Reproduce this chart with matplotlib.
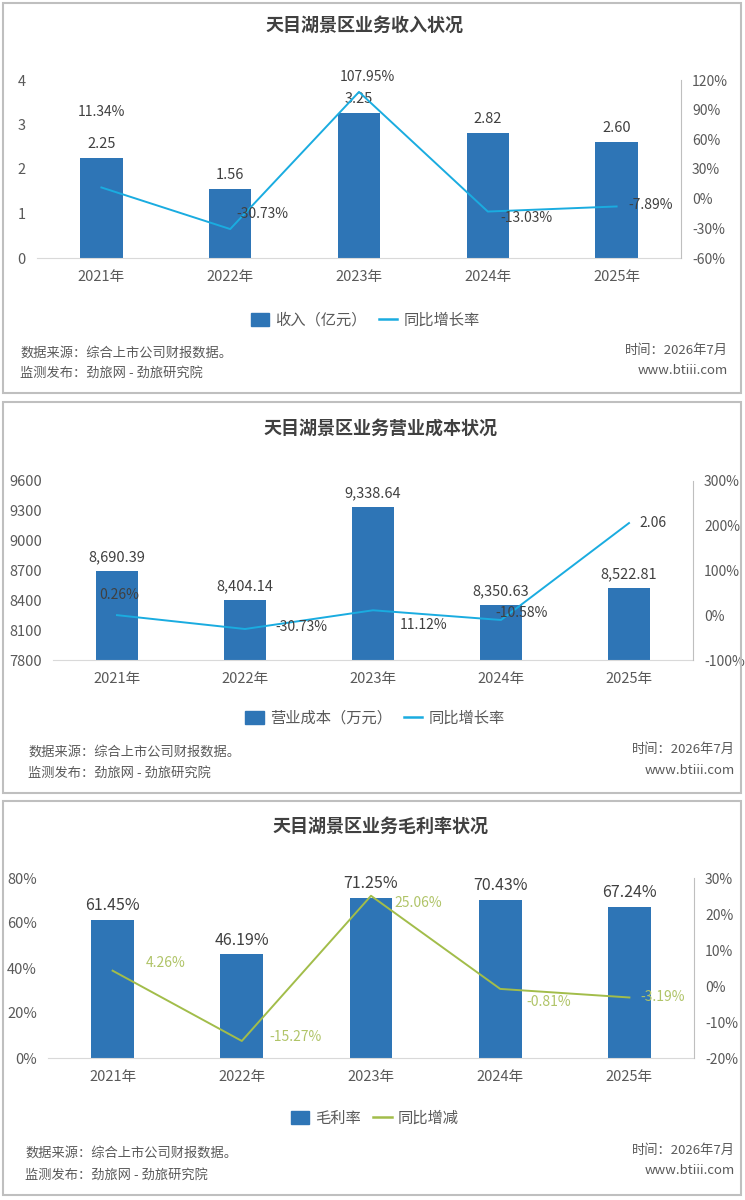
import matplotlib
matplotlib.use('Agg')
import matplotlib.pyplot as plt
from matplotlib.patches import Rectangle, Patch
from matplotlib.lines import Line2D

plt.rcParams['font.family'] = ['Noto Sans CJK SC', 'DejaVu Sans']

#==========================================================
# Données
#==========================================================
years = ['2021年', '2022年', '2023年', '2024年', '2025年']

# Graphique 1 : revenus
revenue = [2.25, 1.56, 3.25, 2.82, 2.60]
revenue_labels = ['2.25', '1.56', '3.25', '2.82', '2.60']
revenue_growth = [11.34, -30.73, 107.95, -13.03, -7.89]
revenue_growth_labels = ['11.34%', '-30.73%', '107.95%', '-13.03%', '-7.89%']

# Graphique 2 : coûts
cost = [8690.39, 8404.14, 9338.64, 8350.63, 8522.81]
cost_labels = ['8,690.39', '8,404.14', '9,338.64', '8,350.63', '8,522.81']
cost_growth = [0.26, -30.73, 11.12, -10.58, 206]
cost_growth_labels = ['0.26%', '-30.73%', '11.12%', '-10.58%', '2.06']

# Graphique 3 : marge brute
margin = [61.45, 46.19, 71.25, 70.43, 67.24]
margin_labels = ['61.45%', '46.19%', '71.25%', '70.43%', '67.24%']
margin_change = [4.26, -15.27, 25.06, -0.81, -3.19]
margin_change_labels = ['4.26%', '-15.27%', '25.06%', '-0.81%', '-3.19%']

BAR = '#2E75B6'
BLUE_LINE = '#1AACE0'
GREEN_LINE = '#A2BD4A'
TXT = '#404040'
W, H = 745, 1200

fig = plt.figure(figsize=(W / 100, H / 100), dpi=100)


def fx(px):
    return px / W


def fy(py):
    return 1 - py / H


def panel(top, bottom, ax_box, title, title_y, title_x,
          bars, bar_labels, bar_fs, ylim, yticks, yticklabels,
          line, line_labels, line_color, label_color, label_offsets,
          ylim2, yticks2, yticklabels2,
          bar_name, line_name, legend_y, legend_x,
          src_x, src_y, right_x, right_y):
    # cadre gris
    fig.patches.append(Rectangle((fx(3), fy(bottom)), fx(738), (bottom - top) / H,
                                 transform=fig.transFigure, fill=False,
                                 edgecolor='#BFBFBF', linewidth=1.5))
    fig.text(fx(title_x), fy(title_y), title, ha='center', va='center',
             fontsize=13, fontweight='bold', color=TXT)

    left, right, ytop, ybot = ax_box
    ax = fig.add_axes([fx(left), fy(ybot), fx(right - left), (ybot - ytop) / H])
    x = list(range(len(years)))
    ax.bar(x, bars, width=0.33, color=BAR, zorder=2)
    ax.set_xlim(-0.5, 4.5)
    ax.set_ylim(*ylim)
    ax.set_yticks(yticks)
    ax.set_yticklabels(yticklabels)
    ax.set_xticks(x)
    ax.set_xticklabels(years)
    for s in ['top', 'left', 'right']:
        ax.spines[s].set_visible(False)
    ax.spines['bottom'].set_color('#D9D9D9')
    ax.tick_params(axis='both', length=0, labelsize=10.5, labelcolor='#595959')
    ax.tick_params(axis='x', pad=9)
    ax.tick_params(axis='y', pad=8)
    for xi, v, lab in zip(x, bars, bar_labels):
        ax.annotate(lab, (xi, v), xytext=(0, 14), textcoords='offset pixels',
                    ha='center', va='center', fontsize=bar_fs, color=TXT)

    ax2 = ax.twinx()
    ax2.plot(x, line, color=line_color, linewidth=1.4, zorder=3)
    ax2.set_ylim(*ylim2)
    ax2.set_yticks(yticks2)
    ax2.set_yticklabels(yticklabels2)
    for s in ['top', 'left', 'bottom']:
        ax2.spines[s].set_visible(False)
    ax2.spines['right'].set_color('#BFBFBF')
    ax2.tick_params(axis='y', length=0, labelsize=10, labelcolor='#595959', pad=8)
    for xi, v, lab, (dx, dy) in zip(x, line, line_labels, label_offsets):
        ax2.annotate(lab, (xi, v), xytext=(dx, dy), textcoords='offset pixels',
                     ha='center', va='center', fontsize=10, color=label_color)

    handles = [Patch(color=BAR), Line2D([0], [0], color=line_color, linewidth=1.8)]
    fig.legend(handles, [bar_name, line_name], loc='center',
               bbox_to_anchor=(fx(legend_x), fy(legend_y)), ncol=2, frameon=False,
               fontsize=11, handlelength=1.2, handleheight=0.9,
               handletextpad=0.4, columnspacing=0.8, labelcolor='#595959')

    fig.text(fx(src_x), fy(src_y[0]), '数据来源：综合上市公司财报数据。',
             ha='left', va='center', fontsize=9.5, color='#595959')
    fig.text(fx(src_x), fy(src_y[1]), '监测发布：劲旅网 - 劲旅研究院',
             ha='left', va='center', fontsize=9.5, color='#595959')
    fig.text(fx(right_x), fy(right_y[0]), '时间：2026年7月',
             ha='right', va='center', fontsize=9.5, color='#595959')
    fig.text(fx(right_x), fy(right_y[1]), 'www.btiii.com',
             ha='right', va='center', fontsize=9.5, color='#595959')


#------------------------------
# Graphique 1 : revenus
#------------------------------
panel(3, 393, (37, 681, 80, 258), '天目湖景区业务收入状况', 25, 365,
      revenue, revenue_labels, 10.5, (0, 4), [0, 1, 2, 3, 4], ['0', '1', '2', '3', '4'],
      revenue_growth, revenue_growth_labels, BLUE_LINE, TXT,
      [(0, 75), (32, 15), (8, 15), (39, -6), (34, 1)],
      (-60, 120), [-60, -30, 0, 30, 60, 90, 120],
      ['-60%', '-30%', '0%', '30%', '60%', '90%', '120%'],
      '收入（亿元）', '同比增长率', 320, 365,
      20, (353, 373), 728, (350, 371))

#------------------------------
# Graphique 2 : coûts
#------------------------------
panel(402, 793, (53, 693, 481, 660), '天目湖景区业务营业成本状况', 428, 380,
      cost, cost_labels, 10.5, (7800, 9600), [7800, 8100, 8400, 8700, 9000, 9300, 9600],
      ['7800', '8100', '8400', '8700', '9000', '9300', '9600'],
      cost_growth, cost_growth_labels, BLUE_LINE, TXT,
      [(2, 20), (56, 2), (51, -15), (21, 7), (24, 0)],
      (-100, 300), [-100, 0, 100, 200, 300],
      ['-100%', '0%', '100%', '200%', '300%'],
      '营业成本（万元）', '同比增长率', 718, 375,
      28, (752, 773), 735, (749, 770))

#------------------------------
# Graphique 3 : marge brute
#------------------------------
panel(801, 1195, (48, 694, 878, 1058), '天目湖景区业务毛利率状况', 826, 380,
      margin, margin_labels, 11.5, (0, 80), [0, 20, 40, 60, 80],
      ['0%', '20%', '40%', '60%', '80%'],
      margin_change, margin_change_labels, GREEN_LINE, '#B0C468',
      [(53, 8), (54, 4), (47, -7), (48, -13), (33, 0)],
      (-20, 30), [-20, -10, 0, 10, 20, 30],
      ['-20%', '-10%', '0%', '10%', '20%', '30%'],
      '毛利率', '同比增减', 1118, 375,
      25, (1153, 1175), 735, (1150, 1170))

plt.savefig('out.png', dpi=100)
plt.close()
